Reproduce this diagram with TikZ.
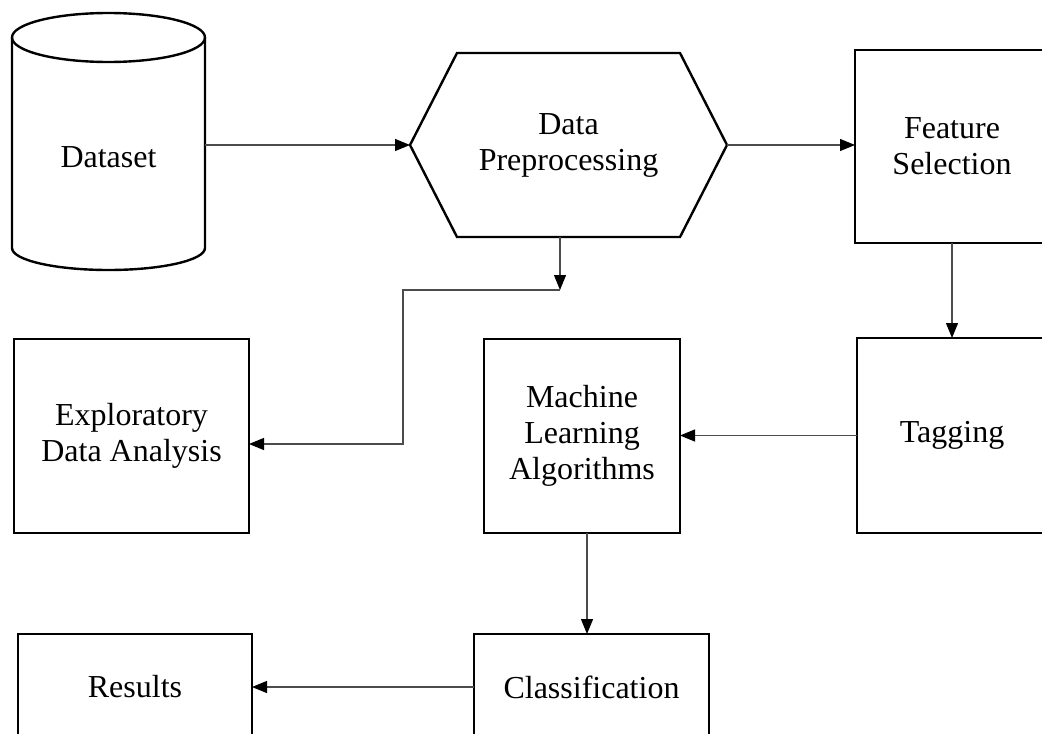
\documentclass[tikz,border=0pt]{standalone}
\usepackage{fontspec}
\setmainfont{Liberation Serif}
\usetikzlibrary{arrows.meta,calc}
\begin{document}
\begin{tikzpicture}[x=0.5pt,y=-0.5pt,
  outline/.style={line width=1.2pt,draw=black},
  txt/.style={align=center,inner sep=0pt,outer sep=0pt,
    font=\fontsize{16}{18}\selectfont},
  stepbox/.style={txt,outline,rectangle},
  arr/.style={line width=0.6pt,draw=black!70,
    -{Triangle[length=7.5pt,width=6pt,color=black]}}]
\useasboundingbox (0,0) rectangle (1042,733);
\fill[white] (0,0) rectangle (1042,733);
\clip (0,0) rectangle (1042,733);

% dataset cylinder
\draw[outline] (108.5,37.5) ellipse [x radius=48.25pt,y radius=12.25pt];
\draw[outline] (12,37.5) -- (12,248)
  arc[start angle=180,end angle=360,x radius=48.25pt,y radius=11pt]
  -- (205,37.5);
\node[txt,minimum width=96.5pt] (cyl) at (108.5,157) {Dataset};

% preprocessing hexagon
\draw[outline] (410,145) -- (457,53) -- (680,53) -- (727,145)
  -- (680,237) -- (457,237) -- cycle;
\node[txt,minimum width=158.5pt,minimum height=92pt] (hex) at (568.5,145)
  {Data\\Preprocessing};

% process boxes
\node[stepbox,minimum width=97pt,minimum height=96.5pt] (feat) at (952,146.5)
  {Feature\\Selection};
\node[stepbox,minimum width=95pt,minimum height=97.5pt] (tag) at (952,435.5)
  {Tagging};
\node[stepbox,minimum width=98pt,minimum height=97pt] (ml) at (582,436)
  {Machine\\Learning\\Algorithms};
\node[stepbox,minimum width=117.5pt,minimum height=97pt] (eda) at (131.5,436)
  {Exploratory\\Data Analysis};
\node[stepbox,minimum width=117.5pt,minimum height=53pt] (cls) at (591.5,687)
  {Classification};
\node[stepbox,minimum width=117pt,minimum height=53pt] (res) at (135,687)
  {Results};

% connectors
\coordinate (split) at (560,290);
\coordinate (bend) at (403,290);
\draw[arr] (cyl.east |- hex.west) -- (hex.west);
\draw[arr] (hex.east) -- (hex.east -| feat.west);
\draw[arr] (feat.south) -- (tag.north);
\draw[arr] (tag.west) -- (tag.west -| ml.east);
\draw[arr] ([xshift=2.5pt]ml.south) -- ([xshift=2.5pt]ml.south |- cls.north);
\draw[arr] (cls.west) -- (cls.west -| res.east);
\draw[arr] (split |- hex.south) -- (split);
\draw[arr] (split) -- (bend) |- ([yshift=-4pt]eda.east);
\end{tikzpicture}
\end{document}
